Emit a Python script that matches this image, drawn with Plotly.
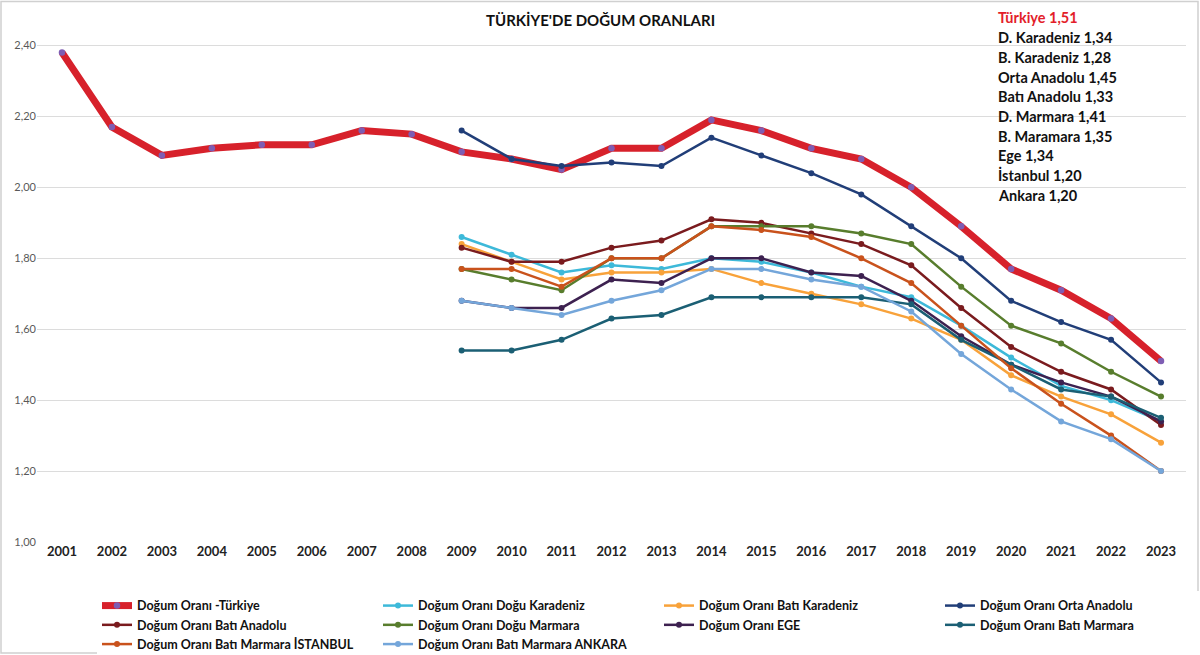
import plotly.graph_objects as go

years = list(range(2001, 2024))
region_years = list(range(2009, 2024))

turkiye = [2.38, 2.17, 2.09, 2.11, 2.12, 2.12, 2.16, 2.15, 2.10, 2.08, 2.05, 2.11, 2.11,
           2.19, 2.16, 2.11, 2.08, 2.00, 1.89, 1.77, 1.71, 1.63, 1.51]
dogu_karadeniz = [1.86, 1.81, 1.76, 1.78, 1.77, 1.80, 1.79, 1.76, 1.72, 1.69, 1.61, 1.52, 1.44, 1.40, 1.34]
bati_karadeniz = [1.84, 1.79, 1.74, 1.76, 1.76, 1.77, 1.73, 1.70, 1.67, 1.63, 1.57, 1.47, 1.41, 1.36, 1.28]
orta_anadolu = [2.16, 2.08, 2.06, 2.07, 2.06, 2.14, 2.09, 2.04, 1.98, 1.89, 1.80, 1.68, 1.62, 1.57, 1.45]
bati_anadolu = [1.83, 1.79, 1.79, 1.83, 1.85, 1.91, 1.90, 1.87, 1.84, 1.78, 1.66, 1.55, 1.48, 1.43, 1.33]
dogu_marmara = [1.77, 1.74, 1.71, 1.80, 1.80, 1.89, 1.89, 1.89, 1.87, 1.84, 1.72, 1.61, 1.56, 1.48, 1.41]
ege = [1.68, 1.66, 1.66, 1.74, 1.73, 1.80, 1.80, 1.76, 1.75, 1.68, 1.58, 1.50, 1.45, 1.41, 1.34]
bati_marmara = [1.54, 1.54, 1.57, 1.63, 1.64, 1.69, 1.69, 1.69, 1.69, 1.67, 1.57, 1.50, 1.43, 1.41, 1.35]
istanbul = [1.77, 1.77, 1.72, 1.80, 1.80, 1.89, 1.88, 1.86, 1.80, 1.73, 1.61, 1.49, 1.39, 1.30, 1.20]
ankara = [1.68, 1.66, 1.64, 1.68, 1.71, 1.77, 1.77, 1.74, 1.72, 1.65, 1.53, 1.43, 1.34, 1.29, 1.20]

series = [
    ("Doğum Oranı Doğu Karadeniz", dogu_karadeniz, "#3DB9D9"),
    ("Doğum Oranı Batı Karadeniz", bati_karadeniz, "#F8A23A"),
    ("Doğum Oranı Orta Anadolu", orta_anadolu, "#213E78"),
    ("Doğum Oranı Batı Anadolu", bati_anadolu, "#7A1B1E"),
    ("Doğum Oranı Doğu Marmara", dogu_marmara, "#587D2D"),
    ("Doğum Oranı EGE", ege, "#3D2150"),
    ("Doğum Oranı Batı Marmara", bati_marmara, "#1B5F74"),
    ("Doğum Oranı Batı Marmara İSTANBUL", istanbul, "#C9521C"),
    ("Doğum Oranı Batı Marmara ANKARA", ankara, "#74A6DA"),
]

annot_lines = ["Türkiye 1,51", "D. Karadeniz 1,34", "B. Karadeniz 1,28", "Orta Anadolu 1,45",
               "Batı Anadolu 1,33", "D. Marmara 1,41", "B. Maramara 1,35", "Ege 1,34",
               "İstanbul 1,20", "Ankara 1,20"]

FONT = "Lato"
PL, PT, PW, PH = 37, 9.5, 1149, 532.5

def px(x):
    return (x - PL) / PW

def py(y):
    return (PT + PH - y) / PH

fig = go.Figure()

fig.add_trace(go.Scatter(
    x=years, y=turkiye, name="Doğum Oranı -Türkiye", mode="lines+markers",
    line=dict(color="#D7212B", width=7),
    marker=dict(color="#7E5DB3", size=6.5),
))
for name, vals, col in series:
    fig.add_trace(go.Scatter(
        x=region_years, y=vals, name=name, mode="lines+markers",
        line=dict(color=col, width=2.5),
        marker=dict(color=col, size=6),
    ))

fig.add_annotation(
    text="TÜRKİYE'DE DOĞUM ORANLARI", xref="paper", yref="paper",
    x=px(600), y=py(20), xanchor="center", yanchor="middle",
    showarrow=False, font=dict(family=FONT, size=15, color="#111111", weight="bold"),
)

for i, t in enumerate(annot_lines):
    fig.add_annotation(
        text=t, xref="paper", yref="paper",
        x=px(996), y=py(17.5 + i * 19.7),
        xanchor="left", yanchor="middle", showarrow=False,
        font=dict(family=FONT, size=14.5, weight="bold",
                  color="#E31E2A" if i == 0 else "#111111"),
    )

fig.add_shape(type="rect", xref="paper", yref="paper",
              x0=px(1), x1=px(1198), y0=py(653), y1=py(1),
              line=dict(color="#D0D0D0", width=1.5), layer="below")

fig.update_layout(
    width=1200, height=655,
    margin=dict(l=PL, r=1200 - PL - PW, t=PT, b=655 - PT - PH, autoexpand=False),
    paper_bgcolor="white", plot_bgcolor="white",
    separators=",.",
    showlegend=True,
    legend=dict(
        orientation="h", x=px(97), y=py(591),
        xanchor="left", yanchor="top",
        entrywidth=236, entrywidthmode="pixels",
        font=dict(family=FONT, size=12.5, color="#111111", weight="bold"),
        itemwidth=30, tracegroupgap=0,
    ),
    xaxis=dict(
        range=[2000.5, 2023.5], tickmode="array", tickvals=years,
        ticktext=[str(y) for y in years], showgrid=False, zeroline=False,
        showline=False, ticks="",
        tickfont=dict(family=FONT, size=13, color="#222222", weight="bold"),
    ),
    yaxis=dict(
        range=[1.0, 2.5], tickmode="array",
        tickvals=[1.0, 1.2, 1.4, 1.6, 1.8, 2.0, 2.2, 2.4],
        tickformat=".2f", showgrid=True, gridcolor="#DCDCDC", gridwidth=1,
        zeroline=False, showline=False, ticks="",
        tickfont=dict(family=FONT, size=11, color="#595959"),
    ),
    font=dict(family=FONT),
)

fig.write_html("out.html", config={"displayModeBar": False},
               post_script="document.body.style.margin='0';document.body.style.overflow='hidden';")
